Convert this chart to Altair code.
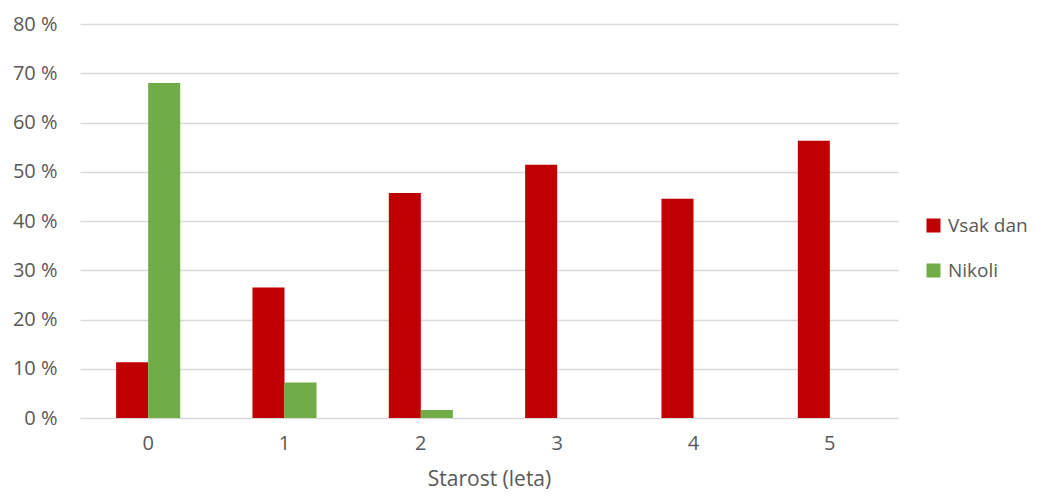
import altair as alt
import pandas as pd

ages = ["0", "1", "2", "3", "4", "5"]
vsak_dan = [11.3, 26.5, 45.7, 51.4, 44.5, 56.3]
nikoli = [68.0, 7.2, 1.6, 0.0, 0.0, 0.0]
series = ["Vsak dan", "Nikoli"]
colors = ["#C00000", "#70AD47"]
y_ticks = [0, 10, 20, 30, 40, 50, 60, 70, 80]

rows = []
for i, a in enumerate(ages):
    rows.append({"age": a, "series": series[0], "value": vsak_dan[i]})
    rows.append({"age": a, "series": series[1], "value": nikoli[i]})
df = pd.DataFrame(rows)

FONT = "Open Sans"
TXT = "#595959"

chart = alt.Chart(df).mark_bar().encode(
    x=alt.X("age:N", sort=ages,
            scale=alt.Scale(paddingInner=0.53, paddingOuter=0.265),
            axis=alt.Axis(title="Starost (leta)", labelAngle=0, ticks=False, domain=False,
                          labelPadding=15, titlePadding=15, labelFontSize=20, titleFontSize=21,
                          labelFont=FONT, titleFont=FONT, labelColor=TXT, titleColor=TXT,
                          titleFontWeight="normal", grid=False)),
    xOffset=alt.XOffset("series:N", sort=series,
                        scale=alt.Scale(paddingInner=0, paddingOuter=0)),
    y=alt.Y("value:Q", scale=alt.Scale(domain=[0, 80], nice=False),
            axis=alt.Axis(title=None, values=y_ticks, labelExpr="datum.value + ' %'",
                          ticks=False, domain=False, labelPadding=23,
                          labelFontSize=20, labelFont=FONT, labelColor=TXT,
                          gridColor="#d9d9d9", gridWidth=1.3)),
    color=alt.Color("series:N", sort=series,
                    scale=alt.Scale(domain=series, range=colors),
                    legend=alt.Legend(title=None, orient="none", legendX=844, legendY=192,
                                      symbolType="square", symbolSize=196, symbolStrokeWidth=0,
                                      labelFontSize=19, labelFont=FONT, labelColor=TXT,
                                      labelOffset=5, rowPadding=25, padding=0)),
).properties(
    width=818, height=394,
    autosize=alt.AutoSizeParams(type="none"),
    padding={"left": 72, "top": 16, "right": 131, "bottom": 73},
).configure_view(stroke=None)

chart.save("out.html", embed_options={"renderer": "svg", "actions": False})
